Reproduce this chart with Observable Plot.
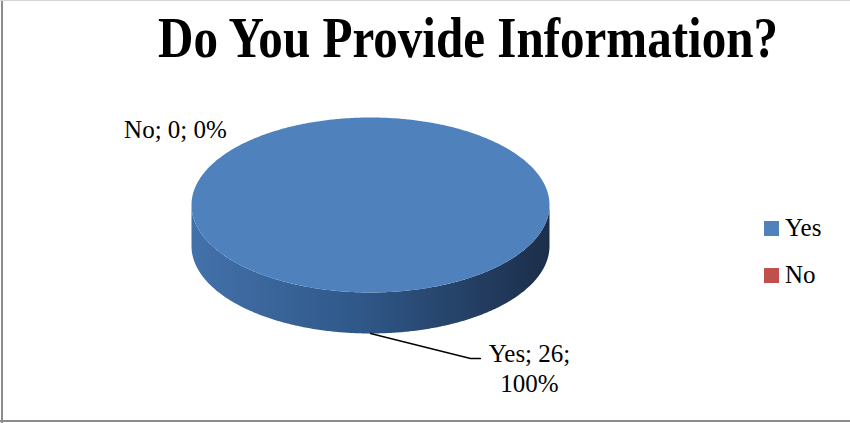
<!DOCTYPE html>
<html><head><meta charset="utf-8">
<script src="https://cdn.jsdelivr.net/npm/d3@7"></script>
<script src="https://cdn.jsdelivr.net/npm/@observablehq/plot@0.6"></script>
<style>
  body { margin: 0; background: #fff; }
  #wrap { position: relative; width: 850px; height: 423px; overflow: hidden; background: #fff; font-family: "Liberation Serif", "DejaVu Serif", serif; }
  #wrap svg { position: absolute; left: 0; top: 0; }
  .bl { position: absolute; left: 1px; top: 0; width: 2px; height: 423px; background: #8c8c8c; }
  .bb { position: absolute; left: 0; top: 420px; width: 850px; height: 2px; background: #8c8c8c; }
  .bt { position: absolute; left: 0; top: 0; width: 850px; height: 1px; background: #d4d4d4; }
  #title { position: absolute; left: 0; width: 936px; top: 10px; text-align: center; font-weight: bold; font-size: 56px; line-height: 1; color: #000; transform: scaleX(0.876); transform-origin: 468px 0; white-space: nowrap; }
  .leg { position: absolute; left: 764px; font-size: 25px; line-height: 25px; color: #000; white-space: nowrap; }
  .leg i { display: inline-block; width: 15px; height: 15px; position: absolute; left: 0; }
  .leg span { position: absolute; left: 21px; top: 0; }
</style>
</head><body>
<div id="wrap"></div>
<script>
// ---- data ----
const categories = ["Yes", "No"];
const values = [26, 0];
const colors = ["#4F81BD", "#C0504D"];
const titleText = "Do You Provide Information?";

// ---- layout (pixels) ----
const cx = 370, cy = 204.5, rx = 179, ry = 87.5, depth = 41;
const labelOffset = { Yes: [159, 33.5], No: [-195, 11] }; // from slice anchor, px
const leaderElbow = [100, 25], leaderEnd = [110, 25];       // from anchor, px
const legendTops = [215, 262];

const wrap = document.getElementById("wrap");

const total = d3.sum(values);
const arcs = d3.pie().sort(null).startAngle(0).endAngle(2 * Math.PI)(values);
const slices = categories.map((c, i) => ({
  category: c, value: values[i], pct: total ? values[i] / total : 0,
  color: colors[i], a0: arcs[i].startAngle, a1: arcs[i].endAngle
}));

const D = depth / ry;
const pt = (a, off = 0) => ({ x: Math.sin(a), y: -Math.cos(a) + off });
function sample(a0, a1, off) {
  const n = Math.max(2, Math.ceil((a1 - a0) / 0.01));
  return d3.range(n + 1).map(k => pt(a0 + (a1 - a0) * k / n, off));
}

const marks = [];
// gradient defs
marks.push(() => {
  const defs = d3.create("svg:defs");
  const g = defs.append("linearGradient").attr("id", "sideGrad")
    .attr("x1", "0").attr("x2", "1").attr("y1", "0").attr("y2", "0");
  [["0%", "#4371AA"], ["45%", "#30598B"], ["100%", "#1C2E4A"]].forEach(([o, c]) =>
    g.append("stop").attr("offset", o).attr("stop-color", c));
  return defs.node();
});

// side walls (front half only)
slices.forEach(s => {
  const s0 = Math.max(s.a0, Math.PI / 2), s1 = Math.min(s.a1, 3 * Math.PI / 2);
  if (s1 > s0) {
    const poly = [...sample(s0, s1, 0), ...sample(s0, s1, D).reverse()];
    marks.push(Plot.line(poly, { x: "x", y: "y", curve: "linear-closed", fill: "url(#sideGrad)", stroke: "none" }));
  }
});
// top faces
slices.forEach(s => {
  if (s.a1 - s.a0 <= 0) return;
  const full = s.a1 - s.a0 >= 2 * Math.PI - 1e-9;
  const poly = full ? sample(s.a0, s.a1, 0) : [{ x: 0, y: 0 }, ...sample(s.a0, s.a1, 0)];
  marks.push(Plot.line(poly, { x: "x", y: "y", curve: "linear-closed", fill: s.color, stroke: "none" }));
});

// labels and leader lines
slices.forEach(s => {
  const mid = (s.a0 + s.a1) / 2;
  const visibleFront = Math.cos(mid) < 0;
  const anchor = pt(mid, visibleFront ? D : 0);
  const [ox, oy] = labelOffset[s.category];
  const pctText = d3.format(".0%")(s.pct);
  const text = s.value > 0 ? `${s.category}; ${s.value};\n${pctText}` : `${s.category}; ${s.value}; ${pctText}`;
  if (s.value > 0) {
    const leader = [anchor,
      { x: anchor.x + leaderElbow[0] / rx, y: anchor.y + leaderElbow[1] / ry },
      { x: anchor.x + leaderEnd[0] / rx, y: anchor.y + leaderEnd[1] / ry }];
    marks.push(Plot.line(leader, { x: "x", y: "y", stroke: "#000", strokeWidth: 1.3 }));
  }
  marks.push(Plot.text([{ x: anchor.x + ox / rx, y: anchor.y + oy / ry, t: text }], {
    x: "x", y: "y", text: "t", textAnchor: "middle", lineHeight: 1.22,
    fontSize: 25, fontFamily: "Liberation Serif, serif", fill: "#000"
  }));
});

const svg = Plot.plot({
  width: 850, height: 423, margin: 0,
  style: { background: "transparent", overflow: "visible" },
  x: { type: "linear", domain: [-1, 1], range: [cx - rx, cx + rx], axis: null },
  y: { type: "linear", domain: [-1, 1], range: [cy - ry, cy + ry], axis: null },
  marks
});
wrap.appendChild(svg);

// title
const t = document.createElement("div");
t.id = "title"; t.textContent = titleText;
wrap.appendChild(t);

// legend
categories.forEach((c, i) => {
  const d = document.createElement("div");
  d.className = "leg"; d.style.top = legendTops[i] + "px";
  d.innerHTML = `<i style="background:${colors[i]};top:${6}px"></i><span>${c}</span>`;
  wrap.appendChild(d);
});

["bl", "bb", "bt"].forEach(cl => { const b = document.createElement("div"); b.className = cl; wrap.appendChild(b); });
</script>
</body></html>
